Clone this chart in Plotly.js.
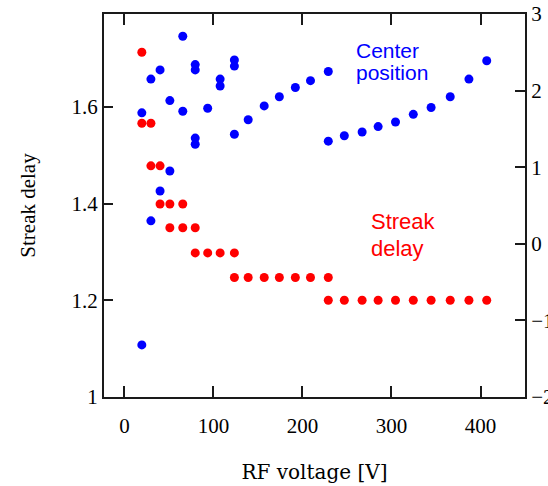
<!DOCTYPE html>
<html>
<head>
<meta charset="utf-8">
<script src="https://cdn.plot.ly/plotly-3.0.1.min.js"></script>
<style>
  html, body { margin: 0; padding: 0; background: #fff; }
  #chart { width: 548px; height: 486px; }
</style>
</head>
<body>
<div id="chart"></div>
<script>
// Streak delay (left axis) vs RF voltage
const delayVoltage = [19.5, 19.5, 29.7, 29.7, 40, 40, 51, 51, 65.5, 65.5, 79.5, 79.5,
  93.5, 107.5, 123.5, 123.5, 139, 157, 174, 192, 209, 229, 229,
  247, 267, 285, 304.5, 324.5, 344.5, 366, 387, 407];
const delayValue = [1.713, 1.566, 1.566, 1.478, 1.478, 1.399, 1.399, 1.350, 1.399, 1.350, 1.350, 1.298,
  1.298, 1.298, 1.298, 1.247, 1.247, 1.247, 1.247, 1.247, 1.247, 1.247, 1.200,
  1.200, 1.200, 1.200, 1.200, 1.200, 1.200, 1.200, 1.200, 1.200];

// Center position (right axis) vs RF voltage
const centerVoltage = [19.5, 19.5, 29.7, 29.7, 40, 40, 51, 51, 65.5, 65.5,
  79.5, 79.5, 79.5, 79.5, 93.5, 107.5, 107.5, 123.5, 123.5, 123.5,
  139, 157, 174, 192, 209, 229, 229,
  247, 267, 285, 304.5, 324.5, 344.5, 366, 387, 407];
const centerValue = [1.71, -1.32, 2.15, 0.30, 2.27, 0.69, 1.87, 0.95, 2.71, 1.73,
  2.34, 2.27, 1.38, 1.30, 1.77, 2.15, 2.06, 2.40, 2.32, 1.43,
  1.62, 1.80, 1.92, 2.04, 2.13, 2.25, 1.34,
  1.41, 1.46, 1.53, 1.59, 1.69, 1.78, 1.92, 2.15, 2.39];

const xTickVals = [0, 100, 200, 300, 400];
const yTickVals = [1, 1.2, 1.4, 1.6];
const y2TickVals = [-2, -1, 0, 1, 2, 3];

const serif = 'Liberation Serif';
const tickFont = {family: serif, size: 21, color: '#000'};
const axisColor = '#1a1a1a';

const traces = [
  {
    x: delayVoltage, y: delayValue, type: 'scatter', mode: 'markers',
    name: 'Streak delay', yaxis: 'y',
    marker: {color: '#ff0000', size: 9}
  },
  {
    x: centerVoltage, y: centerValue, type: 'scatter', mode: 'markers',
    name: 'Center position', yaxis: 'y2',
    marker: {color: '#0000ff', size: 9}
  }
];

const layout = {
  width: 548, height: 486,
  margin: {l: 104, r: 23, t: 14, b: 89, pad: 0},
  paper_bgcolor: '#ffffff', plot_bgcolor: '#ffffff',
  showlegend: false,
  xaxis: {
    range: [-23, 450], tickvals: xTickVals, ticktext: xTickVals.map(String),
    showgrid: false, zeroline: false,
    showline: true, linecolor: axisColor, linewidth: 2, mirror: 'ticks',
    ticks: 'inside', ticklen: 11, tickwidth: 2, tickcolor: axisColor,
    tickfont: tickFont, ticklabelstandoff: 9,
    title: {text: 'RF voltage [V]', font: {family: 'DejaVu Serif', size: 20, color: '#000'}, standoff: 28},
    automargin: false
  },
  yaxis: {
    range: [1, 1.792], tickvals: yTickVals, ticktext: ['1', '1.2', '1.4', '1.6'],
    showgrid: false, zeroline: false,
    showline: true, linecolor: axisColor, linewidth: 2, mirror: false,
    ticks: 'inside', ticklen: 9, tickwidth: 2, tickcolor: axisColor,
    tickfont: tickFont, ticklabelstandoff: 0,
    title: {text: 'Streak delay', font: {family: serif, size: 21, color: '#000'}, standoff: 30},
    automargin: false
  },
  yaxis2: {
    range: [-2, 3], tickvals: y2TickVals, ticktext: ['\u22122', '\u22121', '0', '1', '2', '3'],
    overlaying: 'y', side: 'right',
    showgrid: false, zeroline: false,
    showline: true, linecolor: axisColor, linewidth: 2,
    ticks: 'inside', ticklen: 10, tickwidth: 2, tickcolor: axisColor,
    tickfont: tickFont, ticklabelstandoff: 0,
    automargin: false
  },
  annotations: [
    {text: 'Center', x: 258, y: 0.905, xref: 'x', yref: 'paper', xanchor: 'left', yanchor: 'middle', showarrow: false,
     font: {family: 'Liberation Sans', size: 21, color: '#0000ff'}},
    {text: 'position', x: 258, y: 0.846, xref: 'x', yref: 'paper', xanchor: 'left', yanchor: 'middle', showarrow: false,
     font: {family: 'Liberation Sans', size: 21, color: '#0000ff'}},
    {text: 'Streak', x: 275, y: 0.4595, xref: 'x', yref: 'paper', xanchor: 'left', yanchor: 'middle', showarrow: false,
     font: {family: 'Liberation Sans', size: 22, color: '#ff0000'}},
    {text: 'delay', x: 275, y: 0.388, xref: 'x', yref: 'paper', xanchor: 'left', yanchor: 'middle', showarrow: false,
     font: {family: 'Liberation Sans', size: 22, color: '#ff0000'}}
  ]
};

Plotly.newPlot('chart', traces, layout, {displayModeBar: false, staticPlot: true});
</script>
</body>
</html>
